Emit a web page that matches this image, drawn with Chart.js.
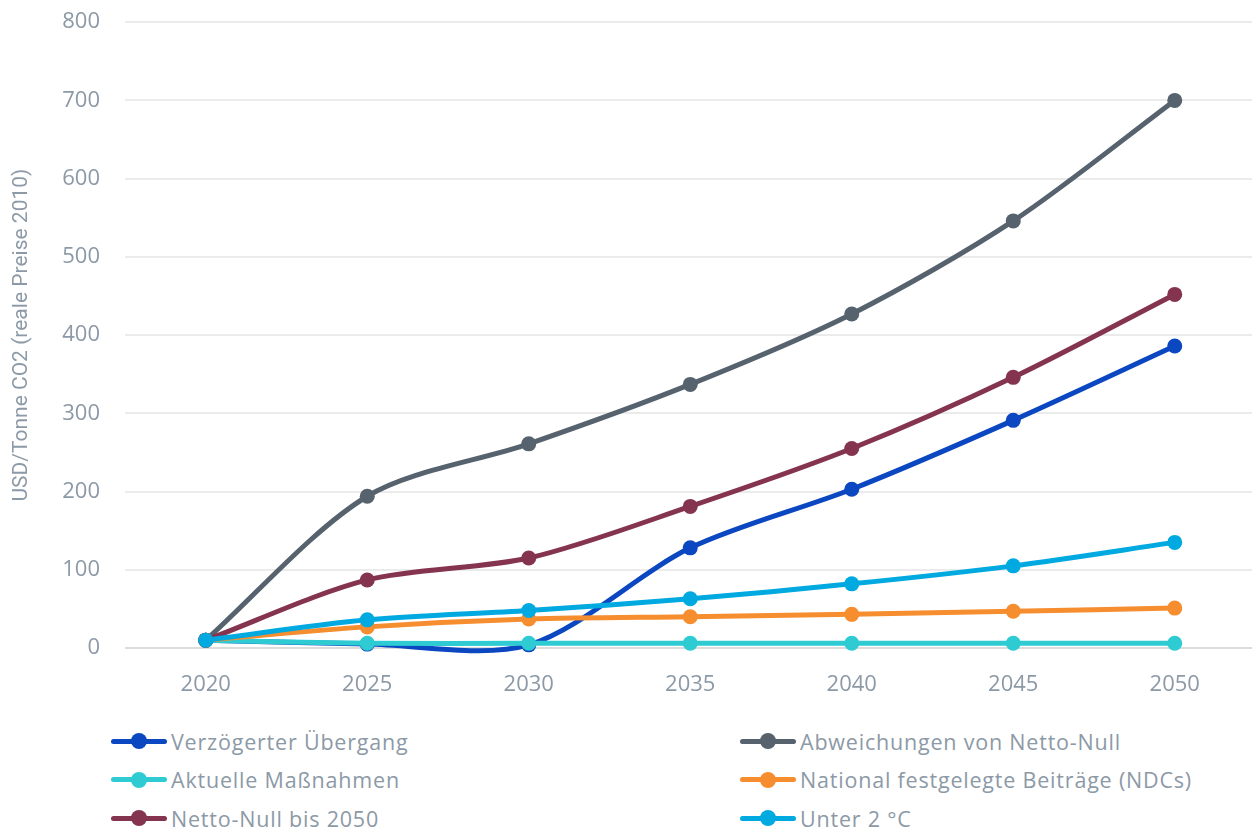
<!DOCTYPE html>
<html lang="de">
<head>
<meta charset="utf-8">
<title>CO2-Preis Szenarien</title>
<script src="https://cdn.jsdelivr.net/npm/chart.js@4/dist/chart.umd.min.js"></script>
<style>
  html, body { margin: 0; padding: 0; background: #fff; overflow: hidden; }
  #wrap { position: relative; width: 1252px; height: 829px; overflow: hidden; }
  #chart { position: absolute; left: 0; top: -16px; }
  #legende {
    position: absolute; left: 0; top: 722px; width: 1252px;
    font-family: "Open Sans", sans-serif; font-size: 21.5px; letter-spacing: 0.8px; color: #8c99a6;
  }
  .eintrag { position: absolute; height: 38px; display: flex; align-items: center; white-space: nowrap; }
  .symbol { position: relative; width: 56px; height: 16px; margin-right: 4px; flex: none; }
  .symbol .linie { position: absolute; left: 0; right: 0; top: 5.5px; height: 5px; border-radius: 3px; }
  .symbol .punkt { position: absolute; left: 20px; top: 0; width: 16px; height: 16px; border-radius: 50%; }
</style>
</head>
<body>
<div id="wrap">
  <canvas id="chart" width="1263" height="724"></canvas>
  <div id="legende"></div>
</div>
<script>
// Jahre auf der x-Achse
var jahre = ['2020', '2025', '2030', '2035', '2040', '2045', '2050'];

// Szenarien (USD/Tonne CO2, reale Preise 2010)
var verzoegert     = [10, 5, 4, 128, 203, 291, 386];
var abweichungen   = [10, 194, 261, 337, 427, 546, 700];
var aktuelle       = [10, 6, 6, 6, 6, 6, 6];
var ndcs           = [10, 27, 37, 40, 43, 47, 51];
var nettoNull      = [10, 87, 115, 181, 255, 346, 452];
var unter2         = [10, 36, 48, 63, 82, 105, 135];

var namen = ['Verzögerter Übergang', 'Abweichungen von Netto-Null', 'Aktuelle Maßnahmen',
             'National festgelegte Beiträge (NDCs)', 'Netto-Null bis 2050', 'Unter 2 °C'];
var farben = ['#0a47c0', '#56626d', '#2ecbd3', '#f68d2e', '#84344e', '#00a9e0'];
var werte = [verzoegert, abweichungen, aktuelle, ndcs, nettoNull, unter2];

var textFarbe = '#8c99a6';

var datensaetze = [];
for (var i = 0; i < werte.length; i++) {
  datensaetze.push({
    label: namen[i],
    data: werte[i],
    borderColor: farben[i],
    backgroundColor: farben[i],
    borderWidth: 5,
    pointRadius: 7.5,
    pointBorderWidth: 0,
    pointHoverRadius: 7.5,
    tension: 0.3,
    capBezierPoints: false,
    clip: false,
    fill: false,
    order: werte.length - 1 - i  // spätere Reihen liegen oben
  });
}

var config = {
  type: 'line',
  data: { labels: jahre, datasets: datensaetze },
  options: {
    responsive: false,
    animation: false,
    devicePixelRatio: 1,
    layout: { padding: { top: 5, right: 0, bottom: 0, left: 0 } },
    plugins: { legend: { display: false }, tooltip: { enabled: false } },
    scales: {
      x: {
        offset: true,
        grid: { display: false },
        border: { display: false },
        ticks: { color: textFarbe, padding: 16, font: { family: 'Open Sans', size: 22 } },
        afterFit: function (scale) { scale.height = 60; }
      },
      y: {
        min: 0,
        max: 800,
        grid: {
          drawTicks: false,
          lineWidth: 2,
          color: function (ctx) { return ctx.index === 0 ? '#dcdcdc' : '#ebebeb'; }
        },
        border: { display: false },
        ticks: { stepSize: 100, color: textFarbe, padding: 25, font: { family: 'Open Sans', size: 22 } },
        title: {
          display: true,
          text: 'USD/Tonne CO2 (reale Preise 2010)',
          color: textFarbe,
          padding: { top: 9, bottom: 0 },
          font: { family: 'Roboto, "Open Sans", sans-serif', size: 21 }
        },
        afterFit: function (scale) { scale.width = 125; }
      }
    }
  }
};

var myChart = new Chart(document.getElementById('chart'), config);

// Legende in zwei Spalten
var legende = document.getElementById('legende');
var spalteX = [111, 740];
myChart.data.datasets.forEach(function (ds, idx) {
  var e = document.createElement('div');
  e.className = 'eintrag';
  e.style.left = spalteX[idx % 2] + 'px';
  e.style.top = (Math.floor(idx / 2) * 38.5) + 'px';
  e.innerHTML = '<span class="symbol"><span class="linie" style="background:' + ds.borderColor +
    '"></span><span class="punkt" style="background:' + ds.borderColor + '"></span></span>' +
    '<span class="text"></span>';
  e.querySelector('.text').textContent = ds.label;
  legende.appendChild(e);
});
</script>
</body>
</html>
